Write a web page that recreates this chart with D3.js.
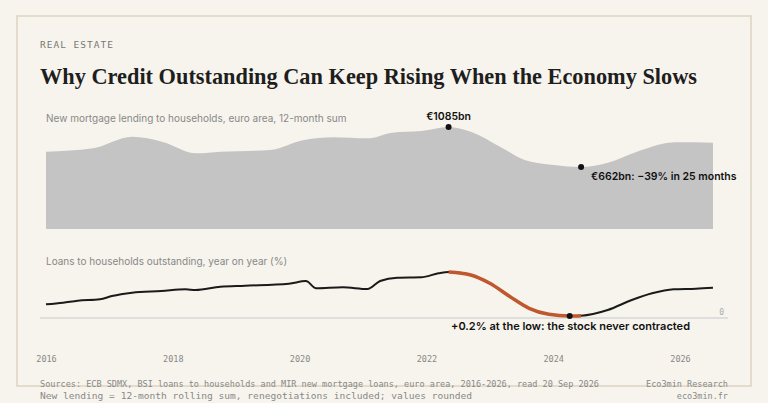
<!DOCTYPE html>
<html><head><meta charset="utf-8">
<script src="https://cdn.jsdelivr.net/npm/d3@7"></script>
<style>body{margin:0;background:#f7f4ed}svg{display:block}</style>
</head><body><svg id="c" width="768" height="403"></svg>
<script>
const lendYears = [2016.0,2016.74,2017.36,2017.83,2018.37,2018.75,2019.53,2020.07,2020.53,2021.07,2021.46,2021.92,2022.35,2022.7,2023.16,2023.55,2024.01,2024.44,2024.86,2025.32,2025.94,2026.52];
const lendValues = [824,860,982,930,807,824,842,948,976,965,1025,1043,1085,1035,877,736,683,662,707,824,923,919];
const growthYears = [2016.0,2016.27,2016.5,2016.85,2017.04,2017.36,2017.82,2018.2,2018.36,2018.75,2019.14,2019.83,2020.1,2020.26,2020.68,2021.07,2021.27,2021.54,2021.92,2022.19,2022.35,2022.7,2023.0,2023.32,2023.62,2023.93,2024.26,2024.44,2024.86,2025.24,2025.56,2025.9,2026.25,2026.52];
const growthValues = [1.37,1.53,1.73,1.87,2.2,2.53,2.7,2.87,2.8,3.13,3.23,3.43,3.7,2.97,3.07,2.9,3.7,4.03,4.07,4.47,4.6,4.3,3.47,2.13,0.97,0.37,0.2,0.23,0.8,1.8,2.47,2.87,2.93,3.03];
const tickYears = [2016,2018,2020,2022,2024,2026];

const svg = d3.select("#c");
svg.append("rect").attr("x",17).attr("y",16).attr("width",734).attr("height",370).attr("fill","#f7f4ed").attr("stroke","#ddd4c2").attr("stroke-width",1.5);
const mono = "'DejaVu Sans Mono', monospace", sans = "Inter, 'Noto Sans', sans-serif";
svg.append("text").attr("x",40).attr("y",48).text("REAL ESTATE").attr("font-family",mono).attr("font-size",9.5).attr("letter-spacing",1).attr("fill","#777");
svg.append("text").attr("x",40).attr("y",84).text("Why Credit Outstanding Can Keep Rising When the Economy Slows").attr("font-family","'Liberation Serif', serif").attr("font-weight","bold").attr("font-size",23).attr("textLength",657).attr("lengthAdjust","spacingAndGlyphs").attr("fill","#1e1e1e");

const x = d3.scaleLinear().domain([2016,2026]).range([46,680]);
const yA = d3.scaleLinear().domain([0,1100]).range([229.6,125.6]);
const yL = d3.scaleLinear().domain([0,5]).range([318,268]);

svg.append("text").attr("x",46).attr("y",122).text("New mortgage lending to households, euro area, 12-month sum").attr("font-family",sans).attr("font-size",10).attr("fill","#888");
const lend = lendYears.map((t,i)=>({t,v:lendValues[i]}));
svg.append("path").datum(lend).attr("fill","#c4c4c4").attr("d",d3.area().curve(d3.curveMonotoneX).x(d=>x(d.t)).y0(229).y1(d=>yA(d.v)));
const pk = lend[12], lo = lend[17];
svg.append("circle").attr("cx",x(pk.t)).attr("cy",yA(pk.v)).attr("r",3).attr("fill","#111");
svg.append("text").attr("x",x(pk.t)).attr("y",yA(pk.v)-7).attr("text-anchor","middle").text("€1085bn").attr("font-family",sans).attr("font-weight",600).attr("font-size",10.5).attr("fill","#111");
svg.append("circle").attr("cx",x(lo.t)).attr("cy",yA(lo.v)).attr("r",3).attr("fill","#111");
svg.append("text").attr("x",x(lo.t)+10).attr("y",yA(lo.v)+13).text("€662bn: −39% in 25 months").attr("font-family",sans).attr("font-weight",600).attr("font-size",10.5).attr("fill","#111");

svg.append("text").attr("x",46).attr("y",265).text("Loans to households outstanding, year on year (%)").attr("font-family",sans).attr("font-size",10).attr("fill","#888");
svg.append("line").attr("x1",40).attr("x2",728).attr("y1",yL(0)).attr("y2",yL(0)).attr("stroke","#c5c9cc").attr("stroke-width",1);
svg.append("text").attr("x",724).attr("y",yL(0)-3).attr("text-anchor","end").text("0").attr("font-family",mono).attr("font-size",8).attr("fill","#aaa");
const g = growthYears.map((t,i)=>({t,v:growthValues[i]}));
const line = d3.line().curve(d3.curveMonotoneX).x(d=>x(d.t)).y(d=>yL(d.v));
svg.append("path").datum(g).attr("fill","none").attr("stroke","#1a1a1a").attr("stroke-width",2).attr("d",line);
svg.append("path").datum(g.slice(20,28)).attr("fill","none").attr("stroke","#c0582f").attr("stroke-width",3.5).attr("d",line);
const low = g[26];
svg.append("circle").attr("cx",x(low.t)).attr("cy",yL(low.v)).attr("r",3).attr("fill","#111");
svg.append("text").attr("x",451).attr("y",330).text("+0.2% at the low: the stock never contracted").attr("font-family",sans).attr("font-weight",600).attr("font-size",11).attr("fill","#111");

svg.append("g").attr("transform","translate(0,353)").call(d3.axisBottom(x).tickValues(tickYears).tickFormat(d3.format("d")).tickSize(0))
 .call(a=>a.select(".domain").remove()).selectAll("text").attr("font-family",mono).attr("font-size",8.5).attr("fill","#888");

svg.append("text").attr("x",40).attr("y",387).text("Sources: ECB SDMX, BSI loans to households and MIR new mortgage loans, euro area, 2016-2026, read 20 Sep 2026").attr("font-family",mono).attr("font-size",8.5).attr("fill","#888").attr("textLength",559).attr("lengthAdjust","spacingAndGlyphs");
svg.append("text").attr("x",40).attr("y",399).text("New lending = 12-month rolling sum, renegotiations included; values rounded").attr("font-family",mono).attr("font-size",8.5).attr("fill","#888").attr("textLength",432).attr("lengthAdjust","spacingAndGlyphs");
svg.append("text").attr("x",728).attr("y",387).attr("text-anchor","end").text("Eco3min Research").attr("font-family",mono).attr("font-size",8.5).attr("fill","#888");
svg.append("text").attr("x",728).attr("y",399).attr("text-anchor","end").text("eco3min.fr").attr("font-family",mono).attr("font-size",8.5).attr("fill","#888");
</script></body></html>
